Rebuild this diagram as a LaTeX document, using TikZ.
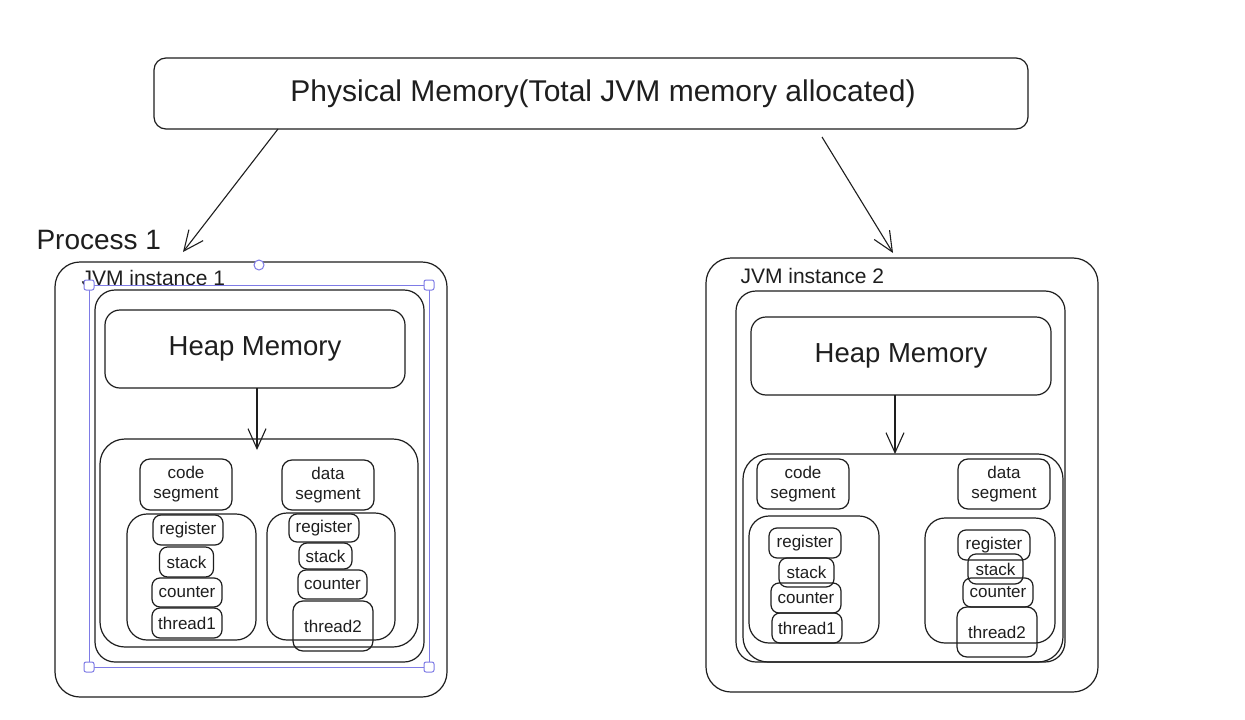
\documentclass[tikz,border=0pt]{standalone}
\usepackage{fontspec}
\setmainfont{Liberation Sans}
\usetikzlibrary{arrows.meta}
\definecolor{ink}{HTML}{1E1E1E}
\definecolor{sel}{HTML}{7E7BE6}
\tikzset{
  box/.style={draw=ink, line width=1.2pt, rounded corners=#1, inner sep=0pt, outer sep=0pt, text=ink},
  box/.default=8pt,
  small/.style={font=\fontsize{17}{20}\selectfont, align=center},
  barb/.style={draw=ink, line width=1.1pt, -{Straight Barb[length=20pt,width=18pt]}},
  handle/.style={draw=sel, fill=white, line width=1pt, rounded corners=2pt, minimum size=10pt, inner sep=0pt},
}
\begin{document}
\begin{tikzpicture}[x=1pt,y=-1pt]
  \useasboundingbox[fill=white] (0,0) rectangle (1245,720);
  % top box
  \node[box=12pt, minimum width=874pt, minimum height=71pt, font=\fontsize{30}{34}\selectfont] (phys) at (591,93.5) {\hspace*{24pt}Physical Memory(Total JVM memory allocated)};
  \node[anchor=base west, text=ink, font=\fontsize{28}{32}\selectfont] (proc) at (33,249) {Process 1};
  % JVM instance 1
  \node[box=25pt, minimum width=392pt, minimum height=435pt] (jvmL) at (251,479.5) {};
  \node[anchor=base west, text=ink, font=\fontsize{21}{24}\selectfont] (labL) at (78,285) {JVM instance 1};
  \node[box=20pt, minimum width=329pt, minimum height=372pt] (innL) at (259.5,476) {};
  \node[box=15pt, minimum width=300pt, minimum height=78pt, font=\fontsize{27.5}{30}\selectfont] (heapL) at (255,349) {\raisebox{-3pt}{Heap Memory}};
  \node[box=25pt, minimum width=318pt, minimum height=208pt] (segL) at (259,543) {};
  \node[box=10pt, small, minimum width=92pt, minimum height=51pt] (codeL) at (186,484.5) {code\\segment};
  \node[box=10pt, small, minimum width=92pt, minimum height=50pt] (dataL) at (328,485) {data\\segment};
  \node[box=20pt, minimum width=129pt, minimum height=126pt] (thrL1) at (191.5,577) {};
  \node[box, small, minimum width=70pt, minimum height=30pt] (regL1) at (188,530) {register};
  \node[box, small, minimum width=54pt, minimum height=30pt] (stkL1) at (186.5,562) {stack};
  \node[box, small, minimum width=70pt, minimum height=29pt] (cntL1) at (187,592.5) {counter};
  \node[box, small, minimum width=70pt, minimum height=30pt] (thdL1) at (187,623) {thread1};
  \node[box=20pt, minimum width=128pt, minimum height=127pt] (thrL2) at (331,576.5) {};
  \node[box, small, minimum width=70pt, minimum height=28pt] (regL2) at (324,528) {register};
  \node[box, small, minimum width=53pt, minimum height=26pt] (stkL2) at (325.5,556) {stack};
  \node[box, small, minimum width=69pt, minimum height=29pt] (cntL2) at (332.5,584.5) {counter};
  \node[box=10pt, small, minimum width=80pt, minimum height=50pt] (thdL2) at (333,626) {thread2};
  \coordinate (tipL) at (257,450);
  \draw[barb] ([xshift=2pt]heapL.south) -- (tipL);
  % JVM instance 2
  \node[box=25pt, minimum width=392pt, minimum height=434pt] (jvmR) at (902,475) {};
  \node[anchor=base west, text=ink, font=\fontsize{21}{24}\selectfont] (labR) at (737,283) {JVM instance 2};
  \node[box=20pt, minimum width=329pt, minimum height=371pt] (innR) at (900.5,476.5) {};
  \node[box=15pt, minimum width=300pt, minimum height=78pt, font=\fontsize{27.5}{30}\selectfont] (heapR) at (901,356) {Heap Memory};
  \node[box=25pt, minimum width=320pt, minimum height=208pt] (segR) at (903,558) {};
  \node[box=10pt, small, minimum width=92pt, minimum height=50pt] (codeR) at (803,484) {code\\segment};
  \node[box=10pt, small, minimum width=92pt, minimum height=50pt] (dataR) at (1004,484) {data\\segment};
  \node[box=20pt, minimum width=130pt, minimum height=127pt] (thrR1) at (814,579.5) {};
  \node[box, small, minimum width=72pt, minimum height=30pt] (regR1) at (805,543) {register};
  \node[box, small, minimum width=55pt, minimum height=29pt] (stkR1) at (806.5,572.5) {stack};
  \node[box, small, minimum width=70pt, minimum height=30pt] (cntR1) at (806,598) {counter};
  \node[box, small, minimum width=70pt, minimum height=30pt] (thdR1) at (807,628) {thread1};
  \node[box=20pt, minimum width=130pt, minimum height=125pt] (thrR2) at (990,580.5) {};
  \node[box, small, minimum width=72pt, minimum height=30pt] (regR2) at (994,545) {register};
  \node[box, small, minimum width=55pt, minimum height=30pt] (stkR2) at (995.5,569) {stack};
  \node[box, small, minimum width=70pt, minimum height=29pt] (cntR2) at (998,592.5) {counter};
  \node[box=10pt, small, minimum width=80pt, minimum height=50pt] (thdR2) at (997,632) {thread2};
  \coordinate (tipR) at (895,454);
  \draw[barb] ([xshift=-6pt]heapR.south) -- (tipR);
  % arrows from the top
  \coordinate (endL) at (183,252);
  \coordinate (endR) at (893,253);
  \draw[barb] ([xshift=-313pt]phys.south) -- (endL);
  \draw[barb] ([xshift=231pt,yshift=-8pt]phys.south) -- (endR);
  % selection frame
  \draw[sel, line width=1pt] (89,285) rectangle (429,667);
  \foreach \hx/\hy [count=\i] in {89/285,429/285,89/667,429/667}
    \node[handle] (hnd\i) at (\hx,\hy) {};
  \node[draw=sel, fill=white, line width=1pt, circle, minimum size=10pt, inner sep=0pt] (rot) at (259,265) {};
\end{tikzpicture}
\end{document}
